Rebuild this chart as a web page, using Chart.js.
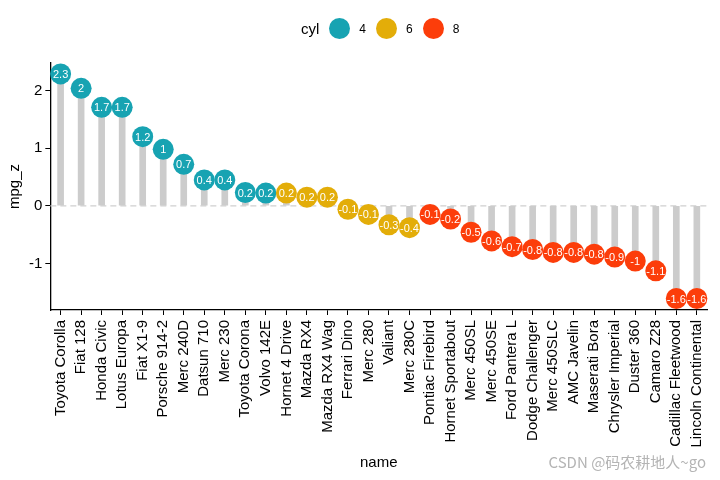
<!DOCTYPE html>
<html>
<head>
<meta charset="utf-8">
<script src="https://cdn.jsdelivr.net/npm/chart.js@4"></script>
<style>
  body { margin: 0; background: #fff; font-family: "Liberation Sans", Arial, sans-serif; }
  #wrap { position: relative; width: 720px; height: 480px; }
  #legend { position: absolute; top: 18px; left: 301px; display: flex; align-items: center; font-size: 15px; color: #000; }
  #legend .dot { width: 21px; height: 21px; border-radius: 50%; display: inline-block; margin: 0 9px 0 0; }
  #legend .lab { font-size: 12px; margin-right: 10px; }
  #mark { position: absolute; right: 14px; top: 451px; font-size: 15px; color: #b4b4b4; font-family: "Noto Sans CJK SC", "Liberation Sans", sans-serif; }
</style>
</head>
<body>
<div id="wrap">
  <canvas id="chart" width="720" height="480"></canvas>
  <div id="legend"></div>
  <div id="mark">CSDN @码农耕地人~go</div>
</div>
<script>
const names = ["Toyota Corolla", "Fiat 128", "Honda Civic", "Lotus Europa", "Fiat X1-9", "Porsche 914-2",
  "Merc 240D", "Datsun 710", "Merc 230", "Toyota Corona", "Volvo 142E", "Hornet 4 Drive", "Mazda RX4",
  "Mazda RX4 Wag", "Ferrari Dino", "Merc 280", "Valiant", "Merc 280C", "Pontiac Firebird", "Hornet Sportabout",
  "Merc 450SL", "Merc 450SE", "Ford Pantera L", "Dodge Challenger", "Merc 450SLC", "AMC Javelin",
  "Maserati Bora", "Chrysler Imperial", "Duster 360", "Camaro Z28", "Cadillac Fleetwood", "Lincoln Continental"];
const mpgZ = [2.29, 2.04, 1.71, 1.71, 1.20, 0.98, 0.72, 0.45, 0.45, 0.23, 0.22, 0.22, 0.15, 0.15,
  -0.06, -0.15, -0.33, -0.38, -0.15, -0.23, -0.46, -0.61, -0.71, -0.76, -0.81, -0.81, -0.84, -0.89,
  -0.96, -1.13, -1.61, -1.61];
const pointLabels = ["2.3", "2", "1.7", "1.7", "1.2", "1", "0.7", "0.4", "0.4", "0.2", "0.2", "0.2", "0.2", "0.2",
  "-0.1", "-0.1", "-0.3", "-0.4", "-0.1", "-0.2", "-0.5", "-0.6", "-0.7", "-0.8", "-0.8", "-0.8", "-0.8", "-0.9",
  "-1", "-1.1", "-1.6", "-1.6"];
const cyl = [4, 4, 4, 4, 4, 4, 4, 4, 4, 4, 4, 6, 6, 6, 6, 6, 6, 6, 8, 8, 8, 8, 8, 8, 8, 8, 8, 8, 8, 8, 8, 8];
const cylLevels = [4, 6, 8];
const yTicks = [-1, 0, 1, 2];

const palette = { 4: "#17a3b2", 6: "#e3ad09", 8: "#fc3d0a" };

// legend
const lg = document.getElementById("legend");
lg.innerHTML = '<span style="margin-right:10px">cyl</span>' +
  cylLevels.map(c => `<span class="dot" style="background:${palette[c]}"></span><span class="lab">${c}</span>`).join("");

const zeroLine = {
  id: "zeroLine",
  beforeDatasetsDraw(chart) {
    const { ctx, chartArea, scales } = chart;
    const y = scales.y.getPixelForValue(0);
    ctx.save();
    ctx.strokeStyle = "#cfcfcf";
    ctx.lineWidth = 1.2;
    ctx.setLineDash([6, 4]);
    ctx.beginPath();
    ctx.moveTo(chartArea.left, y);
    ctx.lineTo(chartArea.right, y);
    ctx.stroke();
    ctx.restore();
  }
};

const dotLabels = {
  id: "dotLabels",
  afterDatasetsDraw(chart) {
    const { ctx } = chart;
    const meta = chart.getDatasetMeta(0);
    ctx.save();
    ctx.fillStyle = "#fff";
    ctx.font = '11px "Liberation Sans", Arial, sans-serif';
    ctx.textAlign = "center";
    ctx.textBaseline = "middle";
    meta.data.forEach((p, i) => ctx.fillText(pointLabels[i], p.x, p.y + 1));
    ctx.restore();
  }
};

const font = { family: '"Liberation Sans", Arial, sans-serif', size: 15 };

new Chart(document.getElementById("chart"), {
  type: "bar",
  data: {
    labels: names,
    datasets: [
      {
        type: "line", data: mpgZ, showLine: false, order: 1,
        pointRadius: 10.5, pointHoverRadius: 10.5, pointBorderWidth: 0,
        pointBackgroundColor: cyl.map(c => palette[c])
      },
      { type: "bar", data: mpgZ, order: 2, backgroundColor: "#cccccc", barThickness: 6 }
    ]
  },
  options: {
    responsive: false,
    animation: false,
    layout: { padding: { top: 63, right: 9, left: 6, bottom: 8 } },
    plugins: { legend: { display: false }, tooltip: { enabled: false } },
    scales: {
      x: {
        offset: true,
        afterFit: s => { s.height = 162; },
        grid: { drawOnChartArea: false, tickColor: "#000", tickLength: 5, offset: false },
        border: { color: "#000", width: 1.3 },
        ticks: { color: "#000", font, minRotation: 90, maxRotation: 90, autoSkip: false, padding: 5 },
        title: { display: true, text: "name", color: "#000", font: { ...font, size: 15 }, padding: { top: 2, bottom: 0 } }
      },
      y: {
        min: -1.81, max: 2.48,
        afterBuildTicks: s => { s.ticks = yTicks.map(v => ({ value: v })); },
        grid: { drawOnChartArea: false, tickColor: "#000", tickLength: 5 },
        border: { color: "#000", width: 1.3 },
        ticks: { color: "#000", font, padding: 3 },
        title: { display: true, text: "mpg_z", color: "#000", font: { ...font, size: 15 }, padding: { top: 0, bottom: 2 } }
      }
    }
  },
  plugins: [zeroLine, dotLabels]
});
</script>
</body>
</html>
